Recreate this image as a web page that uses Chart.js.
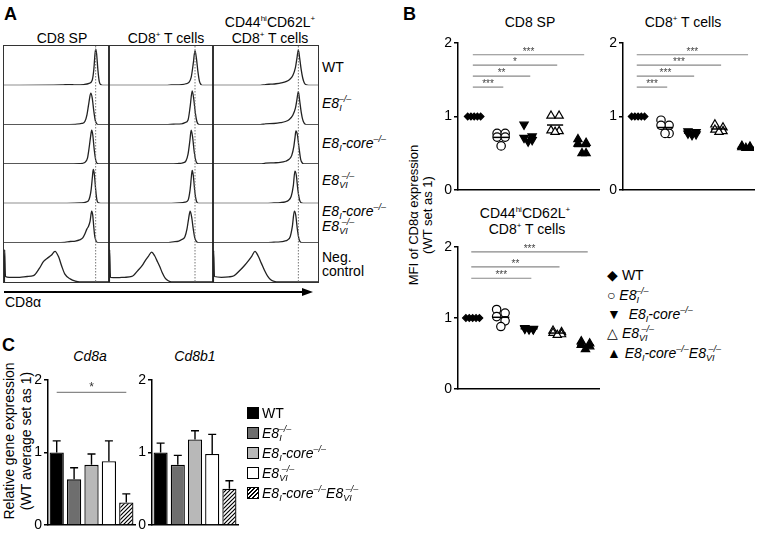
<!DOCTYPE html>
<html>
<head>
<meta charset="utf-8">
<script src="https://cdn.jsdelivr.net/npm/chart.js@4/dist/chart.umd.min.js"></script>
<style>
body { margin: 0; background: #fff; }
#fig { position: relative; width: 772px; height: 535px; overflow: hidden; background: #fff;
       font-family: Arial, "Liberation Sans", sans-serif; color: #000; }
.t { position: absolute; white-space: nowrap; line-height: 1; }
.c { transform: translate(-50%, -50%); }
.l { transform: translate(0, -50%); }
.h { font-size: 14px; }
.p { font-size: 18px; font-weight: bold; }
.box { position: absolute; }
i sub, i sup { font-size: 9px; line-height: 0; }
i sub { vertical-align: -3px; }
i sup { vertical-align: 6px; }
.k1 { margin-left: -3px; }
.k2 { margin-left: -6px; }
.sw { position: absolute; width: 10px; height: 10px; border: 1.3px solid #000; }
</style>
</head>
<body>
<div id="fig">
  <!-- panel letters -->
  <div class="t p" style="left:4px;top:5px">A</div>
  <div class="t p" style="left:403px;top:5px">B</div>
  <div class="t p" style="left:2px;top:336px">C</div>

  <!-- A: headers -->
  <div class="t h c" style="left:62px;top:38px">CD8 SP</div>
  <div class="t h c" style="left:166px;top:38px">CD8<sup style="font-size:8px">+</sup> T cells</div>
  <div class="t h c" style="left:270px;top:22px">CD44<sup style="font-size:8px">hi</sup>CD62L<sup style="font-size:8px">+</sup></div>
  <div class="t h c" style="left:270px;top:38px">CD8<sup style="font-size:8px">+</sup> T cells</div>

  <!-- A: frame + histogram columns -->
  <div class="box" style="left:3px;top:45px;width:316px;height:238px;box-sizing:border-box;border:1.5px solid #333"></div>
  <div class="box" style="left:108px;top:46px;width:1.5px;height:236px;background:#333"></div>
  <div class="box" style="left:212px;top:46px;width:1.5px;height:236px;background:#333"></div>
  <div class="box" style="left:4px;top:46px;width:105px;height:236px"><canvas id="hA1"></canvas></div>
  <div class="box" style="left:109px;top:46px;width:104px;height:236px"><canvas id="hA2"></canvas></div>
  <div class="box" style="left:213px;top:46px;width:105px;height:236px"><canvas id="hA3"></canvas></div>

  <!-- A: row labels -->
  <div class="t h l" style="left:322px;top:67px">WT</div>
  <div class="t h l" style="left:322px;top:103px"><i>E8<sub>I</sub><sup class="k1">–/–</sup></i></div>
  <div class="t h l" style="left:322px;top:143px"><i>E8<sub>I</sub>-core<sup>–/–</sup></i></div>
  <div class="t h l" style="left:322px;top:180px"><i>E8<sub>VI</sub><sup class="k2">–/–</sup></i></div>
  <div class="t h l" style="left:322px;top:211px"><i>E8<sub>I</sub>-core<sup>–/–</sup></i></div>
  <div class="t h l" style="left:322px;top:226px"><i>E8<sub>VI</sub><sup class="k2">–/–</sup></i></div>
  <div class="t h l" style="left:322px;top:257px">Neg.</div>
  <div class="t h l" style="left:322px;top:271px">control</div>

  <!-- A: CD8α arrow -->
  <div class="box" style="left:4px;top:291px;width:300px;height:1.5px;background:#000"></div>
  <div class="box" style="left:302px;top:287.5px;width:0;height:0;border-left:11px solid #000;border-top:4px solid transparent;border-bottom:4px solid transparent"></div>
  <div class="t h l" style="left:5px;top:302px">CD8α</div>

  <!-- B -->
  <div class="t h c" style="left:530px;top:22px">CD8 SP</div>
  <div class="t h c" style="left:683px;top:22px">CD8<sup style="font-size:8px">+</sup> T cells</div>
  <div class="t h c" style="left:525px;top:213px">CD44<sup style="font-size:8px">hi</sup>CD62L<sup style="font-size:8px">+</sup></div>
  <div class="t h c" style="left:527px;top:229px">CD8<sup style="font-size:8px">+</sup> T cells</div>
  <div class="t c" style="left:421px;top:215px;transform:translate(-50%,-50%) rotate(-90deg);font-size:13px;line-height:14px;text-align:center">MFI of CD8α expression<br>(WT set as 1)</div>
  <div class="box" style="left:442px;top:31px;width:163px;height:171px"><canvas id="b1"></canvas></div>
  <div class="box" style="left:607px;top:31px;width:153px;height:171px"><canvas id="b2"></canvas></div>
  <div class="box" style="left:442px;top:235px;width:163px;height:166px"><canvas id="b3"></canvas></div>

  <div class="t h l" style="left:607px;top:275px">◆ WT</div>
  <div class="t h l" style="left:607px;top:295px">○ <i>E8<sub>I</sub><sup class="k1">–/–</sup></i></div>
  <div class="t h l" style="left:607px;top:314px">▼&nbsp; <i>E8<sub>I</sub>-core<sup>–/–</sup></i></div>
  <div class="t h l" style="left:607px;top:333px">△ <i>E8<sub>VI</sub><sup class="k2">–/–</sup></i></div>
  <div class="t h l" style="left:607px;top:353px">▲ <i>E8<sub>I</sub>-core<sup>–/–</sup>E8<sub>VI</sub><sup class="k2">–/–</sup></i></div>

  <!-- C -->
  <div class="t h c" style="left:90px;top:356px"><i>Cd8a</i></div>
  <div class="t h c" style="left:195px;top:356px"><i>Cd8b1</i></div>
  <div class="t c" style="left:18px;top:441px;transform:translate(-50%,-50%) rotate(-90deg);font-size:14px;line-height:17px;text-align:center">Relative gene expression<br>(WT average set as 1)</div>
  <div class="box" style="left:32px;top:368px;width:105px;height:169px"><canvas id="c1"></canvas></div>
  <div class="box" style="left:136px;top:368px;width:104px;height:169px"><canvas id="c2"></canvas></div>

  <div class="sw" style="left:247px;top:407px;background:#000"></div>
  <div class="sw" style="left:247px;top:427px;background:#6e6e6e"></div>
  <div class="sw" style="left:247px;top:447px;background:#b8b8b8"></div>
  <div class="sw" style="left:247px;top:467px;background:#fff"></div>
  <div class="sw" style="left:247px;top:487px;background:repeating-linear-gradient(-45deg,#000 0 1.3px,#fff 1.3px 3px)"></div>
  <div class="t h l" style="left:262px;top:413px">WT</div>
  <div class="t h l" style="left:262px;top:433px"><i>E8<sub>I</sub><sup class="k1">–/–</sup></i></div>
  <div class="t h l" style="left:262px;top:453px"><i>E8<sub>I</sub>-core<sup>–/–</sup></i></div>
  <div class="t h l" style="left:262px;top:473px"><i>E8<sub>VI</sub><sup class="k2">–/–</sup></i></div>
  <div class="t h l" style="left:262px;top:493px"><i>E8<sub>I</sub>-core<sup>–/–</sup>E8<sub>VI</sub><sup class="k2">–/–</sup></i></div>
</div>

<script>
// ---- A: CD8α histograms (x = % of CD8α axis, y = % of row height) ----
// rows: WT, E8I-/-, E8I-core-/-, E8VI-/-, E8I-core-/-E8VI-/-, Neg. control
const histCD8SP = [
  [[0,0],[55,1],[62,2],[68,1],[76,2],[81,5],[84,13],[85.6,42],[86.6,78],[87.3,92],[88.2,80],[89.4,40],[90.7,10],[92,2],[94,0],[100,0]],
  [[0,0],[55,0],[68,1],[74,3],[77,8],[79,25],[80.8,55],[82.6,80],[84,68],[85.5,35],[87,10],[88.5,2],[90,0],[100,0]],
  [[0,0],[60,0],[72,1],[77,4],[79.5,15],[81,40],[82.5,70],[83.5,86],[84.5,75],[86,35],[87.5,8],[89,1],[91,0],[100,0]],
  [[0,0],[60,0],[73,1],[78,3],[81,10],[83,35],[84.3,70],[85,86],[86,75],[87.3,35],[88.5,8],[90,1],[92,0],[100,0]],
  [[0,0],[50,0],[58,1],[63,3],[68,4],[72,7],[75,12],[77,22],[79,35],[80.5,42],[82,55],[83.5,80],[84.5,70],[85.5,40],[86.5,15],[88,3],[90,0],[100,0]],
  [[0.4,0],[0.6,82],[1.4,14],[5,12],[15,12],[22,14],[28,16],[34,36],[37.5,52],[41,60],[45,68],[48.6,78],[52,64],[55,40],[58,20],[63,8],[68,2],[72,0],[100,0]]
];
const histCD8T = [
  [[0,0],[55,0],[60,1],[70,2],[74,4],[77,8],[79,20],[81,55],[82.7,88],[84,70],[85.5,35],[87,10],[88.5,2],[90,0],[100,0]],
  [[0,0],[55,0],[62,1],[70,2],[73,5],[76,12],[78,45],[80,86],[81.5,65],[83,30],[84.5,8],[86,1],[88,0],[100,0]],
  [[0,0],[58,0],[66,1],[71,3],[74,8],[76,25],[77.8,60],[79,86],[80.3,70],[82,30],[83.5,8],[85,1],[87,0],[100,0]],
  [[0,0],[60,0],[68,1],[73,3],[76,8],[78,35],[79.3,70],[80,84],[81,72],[82.5,30],[84,6],[86,0],[100,0]],
  [[0,0],[55,0],[62,2],[67,4],[70,8],[73,15],[75,35],[76.5,60],[78,80],[79.5,65],[81,35],[82.5,12],[84,3],[86,0],[100,0]],
  [[0.4,0],[0.6,82],[1.4,12],[8,11],[15,12],[22,14],[28,30],[32,42],[35,55],[38,66],[41,76],[44,66],[46,55],[49,38],[51,25],[54,10],[57,3],[60,0],[100,0]]
];
const histCD44 = [
  [[0,0],[45,0],[50,2],[55,3],[60,4],[65,6],[70,10],[73,15],[76,25],[78.5,45],[80,70],[81.3,90],[82.5,70],[84,40],[85.5,18],[87,6],[89,1],[91,0],[100,0]],
  [[0,0],[45,0],[50,2],[58,3],[64,5],[69,8],[73,14],[76,24],[78.5,42],[80,65],[81.3,84],[82.5,62],[84,32],[85.5,12],[87,3],[89,0],[100,0]],
  [[0,0],[45,0],[50,2],[58,3],[64,4],[69,7],[72.5,12],[75,22],[77,45],[78,65],[79,84],[80.3,75],[82,40],[83.5,12],[85,3],[87,0],[100,0]],
  [[0,0],[50,0],[58,1],[64,2],[69,4],[72,8],[74.5,18],[76.5,45],[78,82],[79.3,72],[80.8,35],[82.5,8],[84,1],[86,0],[100,0]],
  [[0,0],[50,0],[58,1],[64,2],[68,4],[71,7],[73.5,15],[75.5,40],[77.5,80],[78.8,70],[80.3,35],[82,8],[83.5,1],[85,0],[100,0]],
  [[0.4,0],[0.6,80],[1.4,14],[8,12],[15,13],[20,16],[25,28],[30,42],[34,55],[37,66],[40,78],[43,66],[46,48],[49,30],[52,15],[55,6],[59,1],[62,0],[100,0]]
];

// ---- B: MFI of CD8α (WT set as 1), one list per genotype ----
const genotypes = ['WT', 'E8I-/-', 'E8I-core-/-', 'E8VI-/-', 'E8I-core-/-E8VI-/-'];
const mfiCD8SP = [[1, 1, 1, 1, 1], [0.77, 0.77, 0.72, 0.72, 0.60], [0.89, 0.73, 0.71, 0.68, 0.66], [1.01, 1.01, 0.81, 0.80, 0.79], [0.69, 0.64, 0.63, 0.50, 0.50]];
const mfiCD8T  = [[1, 1, 1, 1, 1], [0.95, 0.88, 0.88, 0.77, 0.77], [0.80, 0.79, 0.77, 0.76, 0.75], [0.89, 0.85, 0.82, 0.80, 0.79], [0.60, 0.59, 0.58, 0.57, 0.57]];
const mfiCD44  = [[1, 1, 1, 1, 1], [1.12, 1.07, 1.02, 0.96, 0.88], [0.86, 0.85, 0.85, 0.84, 0.84], [0.82, 0.80, 0.79, 0.77, 0.76], [0.67, 0.64, 0.62, 0.60, 0.56]];
// significance vs WT: [stars, genotype index, bar height]
const sigCD8SP = [['***', 1, 1.40], ['**', 2, 1.55], ['*', 3, 1.70], ['***', 4, 1.84]];
const sigCD8T  = [['***', 1, 1.40], ['***', 2, 1.55], ['***', 3, 1.70], ['***', 4, 1.84]];
const sigCD44  = [['***', 2, 1.56], ['**', 3, 1.72], ['***', 4, 1.93]];

// ---- C: relative gene expression (mean, SEM) ----
const cd8aMean  = [1.00, 0.63, 0.83, 0.88, 0.31];
const cd8aErr   = [0.16, 0.16, 0.15, 0.28, 0.12];
const cd8b1Mean = [1.00, 0.83, 1.18, 0.98, 0.50];
const cd8b1Err  = [0.13, 0.13, 0.12, 0.27, 0.11];
const sigCd8a   = [['*', 0, 4, 1.83]];
const yTicks = [0, 1, 2];

// styles
const MARKS = [
  { style: 'rectRot',  rot: 0,   r: 3.3, fill: '#000' },
  { style: 'circle',   rot: 0,   r: 4.2, fill: '#fff' },
  { style: 'triangle', rot: 180, r: 4.8, fill: '#000' },
  { style: 'triangle', rot: 0,   r: 4.8, fill: '#fff' },
  { style: 'triangle', rot: 0,   r: 4.8, fill: '#000' }
];
const SPREAD_ROW = [-0.24, -0.12, 0, 0.12, 0.24];
const SPREAD_SWARM = [-0.15, 0.15, -0.15, 0.15, 0];

// dotted line at WT peak, through all rows
const wtPeakLine = {
  id: 'wtPeakLine',
  afterDatasetsDraw(chart) {
    const pts = chart.data.datasets[0].data;
    let top = pts[0];
    pts.forEach(p => { if (p.y > top.y) top = p; });
    const x = chart.scales.x.getPixelForValue(top.x);
    const ctx = chart.ctx, a = chart.chartArea;
    ctx.save();
    ctx.strokeStyle = '#777';
    ctx.lineWidth = 1;
    ctx.setLineDash([1.5, 1.5]);
    ctx.beginPath();
    ctx.moveTo(x, a.top);
    ctx.lineTo(x, a.bottom);
    ctx.stroke();
    ctx.restore();
  }
};

function histChart(id, traces) {
  const scales = { x: { type: 'linear', min: 0, max: 100, display: false } };
  traces.forEach((t, i) => {
    scales['r' + i] = { type: 'linear', min: 0, max: 100, position: 'right', stack: 'rows', stackWeight: 1, display: false };
  });
  new Chart(document.getElementById(id), {
    type: 'line',
    data: {
      datasets: traces.map((t, i) => ({
        data: t.map(p => ({ x: p[0], y: p[1] })),
        yAxisID: 'r' + i,
        borderColor: '#222',
        borderWidth: 1.3,
        pointRadius: 0,
        cubicInterpolationMode: 'monotone',
        fill: false
      }))
    },
    options: {
      animation: false,
      responsive: true,
      maintainAspectRatio: false,
      layout: { padding: 0 },
      plugins: { legend: { display: false }, tooltip: { enabled: false } },
      scales: scales
    },
    plugins: [wtPeakLine]
  });
}

histChart('hA1', histCD8SP);
histChart('hA2', histCD8T);
histChart('hA3', histCD44);

// mean lines + significance bars for the dot plots
const groupMarks = {
  id: 'groupMarks',
  afterDatasetsDraw(chart, args, opts) {
    const ctx = chart.ctx, xs = chart.scales.x, ys = chart.scales.y;
    ctx.save();
    chart.data.datasets.forEach((ds, g) => {
      const m = ds.data.reduce((s, p) => s + p.y, 0) / ds.data.length;
      ctx.strokeStyle = '#000';
      ctx.lineWidth = 1.5;
      ctx.beginPath();
      ctx.moveTo(xs.getPixelForValue(g - 0.3), ys.getPixelForValue(m));
      ctx.lineTo(xs.getPixelForValue(g + 0.3), ys.getPixelForValue(m));
      ctx.stroke();
    });
    (opts.sig || []).forEach(s => {
      const x0 = xs.getPixelForValue(-0.05), x1 = xs.getPixelForValue(s[1] + 0.08);
      const y = ys.getPixelForValue(s[2]);
      ctx.strokeStyle = '#888';
      ctx.lineWidth = 1.2;
      ctx.beginPath();
      ctx.moveTo(x0, y);
      ctx.lineTo(x1, y);
      ctx.stroke();
      ctx.fillStyle = '#444';
      ctx.font = '10px Arial, "Liberation Sans", sans-serif';
      ctx.textAlign = 'center';
      ctx.textBaseline = 'bottom';
      ctx.fillText(s[0], (x0 + x1) / 2, y + 2);
    });
    ctx.restore();
  }
};

function yAxis() {
  return {
    min: 0, max: 2,
    afterBuildTicks: s => { s.ticks = yTicks.map(v => ({ value: v })); },
    ticks: { color: '#000', font: { size: 14, family: 'Arial, "Liberation Sans", sans-serif' }, padding: 2 },
    grid: { display: true, drawOnChartArea: false, drawTicks: true, tickLength: 4, color: '#000', lineWidth: 1.5 },
    border: { display: true, color: '#000', width: 1.5 },
    afterFit: s => { s.width = 16; }
  };
}

function dotChart(id, groups, sig, xmin, xmax) {
  new Chart(document.getElementById(id), {
    type: 'scatter',
    data: {
      datasets: groups.map((vals, g) => ({
        label: genotypes[g],
        data: vals.map((v, k) => ({ x: g + (g === 0 ? SPREAD_ROW[k] : SPREAD_SWARM[k]), y: v })),
        pointStyle: MARKS[g].style,
        pointRotation: MARKS[g].rot,
        pointRadius: MARKS[g].r,
        pointBackgroundColor: MARKS[g].fill,
        pointBorderColor: '#000',
        pointBorderWidth: 1.2
      }))
    },
    options: {
      animation: false,
      responsive: true,
      maintainAspectRatio: false,
      layout: { padding: { top: 12, bottom: 12, left: 0, right: 2 } },
      plugins: { legend: { display: false }, tooltip: { enabled: false }, groupMarks: { sig: sig } },
      scales: {
        x: {
          type: 'linear', min: xmin, max: xmax,
          ticks: { display: false },
          grid: { display: false, drawTicks: false },
          border: { display: true, color: '#000', width: 1.5 }
        },
        y: yAxis()
      }
    },
    plugins: [groupMarks]
  });
}

dotChart('b1', mfiCD8SP, sigCD8SP, -0.6, 4.63);
dotChart('b2', mfiCD8T, sigCD8T, -0.56, 4.3);
dotChart('b3', mfiCD44, sigCD44, -0.52, 4.48);

// hatched fill for the double knockout
function hatch() {
  const c = document.createElement('canvas');
  c.width = 4; c.height = 4;
  const g = c.getContext('2d');
  g.fillStyle = '#fff';
  g.fillRect(0, 0, 4, 4);
  g.strokeStyle = '#000';
  g.lineWidth = 1.2;
  g.beginPath();
  g.moveTo(0, 4); g.lineTo(4, 0);
  g.moveTo(-1, 1); g.lineTo(1, -1);
  g.moveTo(3, 5); g.lineTo(5, 3);
  g.stroke();
  return g.createPattern(c, 'repeat');
}
const barFills = ['#000', '#6e6e6e', '#b8b8b8', '#fff', hatch()];

const errorBars = {
  id: 'errorBars',
  afterDatasetsDraw(chart, args, opts) {
    const ctx = chart.ctx, ys = chart.scales.y, xs = chart.scales.x;
    const meta = chart.getDatasetMeta(0);
    ctx.save();
    ctx.strokeStyle = '#000';
    ctx.lineWidth = 1.4;
    meta.data.forEach((bar, i) => {
      const v = chart.data.datasets[0].data[i];
      const yTop = ys.getPixelForValue(v + opts.err[i]);
      ctx.beginPath();
      ctx.moveTo(bar.x, bar.y);
      ctx.lineTo(bar.x, yTop);
      ctx.moveTo(bar.x - 4, yTop);
      ctx.lineTo(bar.x + 4, yTop);
      ctx.stroke();
    });
    (opts.sig || []).forEach(s => {
      const x0 = xs.getPixelForValue(s[1]), x1 = xs.getPixelForValue(s[2]);
      const y = ys.getPixelForValue(s[3]);
      ctx.strokeStyle = '#888';
      ctx.lineWidth = 1.2;
      ctx.beginPath();
      ctx.moveTo(x0, y);
      ctx.lineTo(x1, y);
      ctx.stroke();
      ctx.fillStyle = '#333';
      ctx.font = '12px Arial, "Liberation Sans", sans-serif';
      ctx.textAlign = 'center';
      ctx.textBaseline = 'bottom';
      ctx.fillText(s[0], (x0 + x1) / 2, y + 1);
    });
    ctx.restore();
  }
};

function barChart(id, means, errs, sig) {
  new Chart(document.getElementById(id), {
    type: 'bar',
    data: {
      labels: genotypes,
      datasets: [{
        data: means,
        backgroundColor: barFills,
        borderColor: '#000',
        borderWidth: 1.3,
        barPercentage: 0.82,
        categoryPercentage: 1.0
      }]
    },
    options: {
      animation: false,
      responsive: true,
      maintainAspectRatio: false,
      layout: { padding: { top: 12, bottom: 12, left: 0, right: 2 } },
      plugins: { legend: { display: false }, tooltip: { enabled: false }, errorBars: { err: errs, sig: sig } },
      scales: {
        x: {
          ticks: { display: false },
          grid: { display: false, drawTicks: false },
          border: { display: true, color: '#000', width: 1.5 }
        },
        y: yAxis()
      }
    },
    plugins: [errorBars]
  });
}

barChart('c1', cd8aMean, cd8aErr, sigCd8a);
barChart('c2', cd8b1Mean, cd8b1Err, []);
</script>
</body>
</html>
